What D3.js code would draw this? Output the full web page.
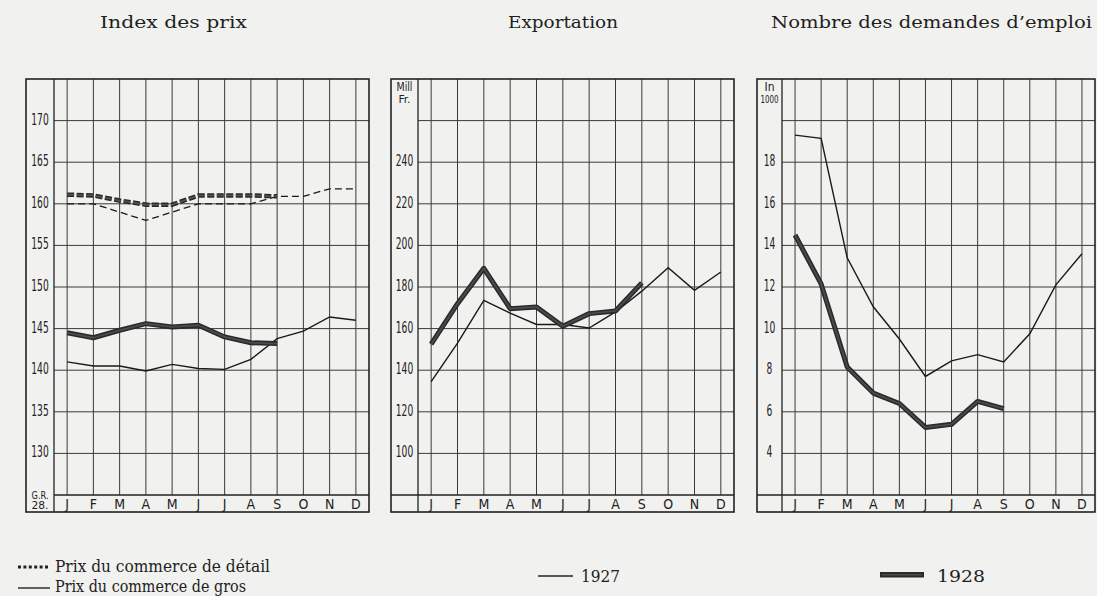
<!DOCTYPE html>
<html>
<head>
<meta charset="utf-8">
<script src="https://cdn.jsdelivr.net/npm/d3@7"></script>
<style>
  body { margin: 0; background: #f1f1ef; }
  svg { display: block; }
  .title, .legend { font-family: "DejaVu Serif Condensed", "DejaVu Serif", serif; fill: #1e1e1e; }
  .tick-label { font-family: "DejaVu Sans Condensed", "DejaVu Sans", sans-serif; fill: #222; }
</style>
</head>
<body>
<div id="chart"></div>
<script>
// months (J F M A M J J A S O N D)
const monthLabels = ["J", "F", "M", "A", "M", "J", "J", "A", "S", "O", "N", "D"];

// Index des prix
const retail1927 = [160, 160, 159, 158, 159, 160, 160, 160, 160.9, 160.9, 161.8, 161.8];
const retail1928 = [161.1, 161, 160.4, 159.9, 159.9, 161, 161, 161, 160.9];
const wholesale1927 = [141, 140.5, 140.5, 139.9, 140.7, 140.2, 140.1, 141.3, 143.8, 144.7, 146.4, 146];
const wholesale1928 = [144.5, 143.9, 144.8, 145.6, 145.2, 145.4, 144, 143.3, 143.2];
const priceTicks = [130, 135, 140, 145, 150, 155, 160, 165, 170];

// Exportation (Mill. Fr.)
const export1927 = [134.5, 153, 173.6, 167.4, 162, 162, 160.3, 168, 178, 189.3, 178.4, 187.2];
const export1928 = [152.5, 172, 189, 169.6, 170.4, 161.1, 167.2, 168.5, 182];
const exportTicks = [100, 120, 140, 160, 180, 200, 220, 240];

// Nombre des demandes d'emploi (en 1000)
const jobs1927 = [19.3, 19.15, 13.4, 11.05, 9.5, 7.7, 8.45, 8.75, 8.4, 9.75, 12.1, 13.6];
const jobs1928 = [14.5, 12.15, 8.15, 6.9, 6.4, 5.25, 5.4, 6.5, 6.15];
const jobsTicks = [4, 6, 8, 10, 12, 14, 16, 18];

const width = 1097, height = 596;
const plotTop = 79, bandTop = 495, plotBottom = 512;

const svg = d3.select("#chart").append("svg")
  .attr("width", width)
  .attr("height", height);

const panels = [
  { title: "Index des prix", titleX: 100, titleW: 147, left: 26, inner: 54, right: 369,
    domain: [125, 175], ticks: priceTicks, unit: null, corner: ["G.R.", "28."],
    series: [
      { values: retail1927, kind: "thinDash" },
      { values: wholesale1927, kind: "thin" },
      { values: retail1928, kind: "thickDash" },
      { values: wholesale1928, kind: "thick" }
    ] },
  { title: "Exportation", titleX: 508, titleW: 110, left: 391, inner: 418, right: 734,
    domain: [80, 280], ticks: exportTicks, unit: ["Mill", "Fr."], corner: null,
    series: [
      { values: export1927, kind: "thin" },
      { values: export1928, kind: "thick" }
    ] },
  { title: "Nombre des demandes d\u2019emploi", titleX: 771, titleW: 321, left: 757, inner: 782, right: 1095,
    domain: [2, 22], ticks: jobsTicks, unit: ["In", "1000"], corner: null,
    series: [
      { values: jobs1927, kind: "thin" },
      { values: jobs1928, kind: "thick" }
    ] }
];

panels.forEach(p => {
  const g = svg.append("g");
  const x = d3.scalePoint().domain(d3.range(12)).range([p.inner, p.right]).padding(0.5);
  const y = d3.scaleLinear().domain(p.domain).range([bandTop, plotTop]);

  // title
  svg.append("text")
    .attr("class", "title")
    .attr("x", p.titleX)
    .attr("y", 28)
    .attr("font-size", 17)
    .attr("textLength", p.titleW)
    .attr("lengthAdjust", "spacingAndGlyphs")
    .text(p.title);

  // horizontal grid
  const gridVals = d3.range(p.domain[0], p.domain[1] + 0.001, (p.domain[1] - p.domain[0]) / 10);
  g.selectAll(".hgrid")
    .data(gridVals.filter(v => v > p.domain[0] && v < p.domain[1]))
    .enter().append("line")
    .attr("x1", p.inner).attr("x2", p.right)
    .attr("y1", d => y(d)).attr("y2", d => y(d))
    .attr("stroke", "#3a3a3a").attr("stroke-width", 1);

  // vertical grid
  g.selectAll(".vgrid")
    .data(d3.range(12))
    .enter().append("line")
    .attr("x1", d => x(d)).attr("x2", d => x(d))
    .attr("y1", plotTop).attr("y2", bandTop)
    .attr("stroke", "#3a3a3a").attr("stroke-width", 1);

  // band line, inner axis, border
  g.append("line").attr("x1", p.corner ? p.inner : p.left).attr("x2", p.right)
    .attr("y1", bandTop).attr("y2", bandTop)
    .attr("stroke", "#222").attr("stroke-width", 1.3);
  g.append("line").attr("x1", p.inner).attr("x2", p.inner)
    .attr("y1", plotTop).attr("y2", plotBottom)
    .attr("stroke", "#222").attr("stroke-width", 1.3);
  g.append("rect")
    .attr("x", p.left).attr("y", plotTop)
    .attr("width", p.right - p.left).attr("height", plotBottom - plotTop)
    .attr("fill", "none").attr("stroke", "#222").attr("stroke-width", 1.6);

  // y tick labels (narrow, hand-lettered look)
  g.selectAll(".ylab")
    .data(p.ticks)
    .enter().append("text")
    .attr("class", "tick-label")
    .attr("x", (p.left + p.inner) / 2)
    .attr("y", d => y(d) + 4)
    .attr("text-anchor", "middle")
    .attr("font-size", 15)
    .attr("textLength", d => String(d).length * 5.8)
    .attr("lengthAdjust", "spacingAndGlyphs")
    .text(d => d);

  // month labels
  g.selectAll(".mlab")
    .data(monthLabels)
    .enter().append("text")
    .attr("class", "tick-label")
    .attr("x", (d, i) => x(i))
    .attr("y", bandTop + 14)
    .attr("text-anchor", "middle")
    .attr("font-size", 14)
    .text(d => d);

  if (p.unit) {
    p.unit.forEach((t, i) => {
      g.append("text").attr("class", "tick-label")
        .attr("x", (p.left + p.inner) / 2).attr("y", plotTop + 12 + i * 12)
        .attr("text-anchor", "middle").attr("font-size", i === 0 ? 12 : 10)
        .attr("textLength", i === 0 ? (t.length > 2 ? 16 : 10) : (t.length > 3 ? 18 : 12))
        .attr("lengthAdjust", "spacingAndGlyphs")
        .text(t);
    });
  }
  if (p.corner) {
    p.corner.forEach((t, i) => {
      g.append("text").attr("class", "tick-label")
        .attr("x", (p.left + p.inner) / 2).attr("y", bandTop + 4 + i * 10)
        .attr("text-anchor", "middle").attr("font-size", 10)
        .attr("textLength", 17).attr("lengthAdjust", "spacingAndGlyphs")
        .text(t);
    });
  }

  const line = d3.line().x((d, i) => x(i)).y(d => y(d));

  p.series.forEach(s => {
    if (s.kind === "thin") {
      g.append("path").attr("d", line(s.values))
        .attr("fill", "none").attr("stroke", "#1a1a1a").attr("stroke-width", 1.4);
    } else if (s.kind === "thinDash") {
      g.append("path").attr("d", line(s.values))
        .attr("fill", "none").attr("stroke", "#1a1a1a").attr("stroke-width", 1.3)
        .attr("stroke-dasharray", "7,4");
    } else if (s.kind === "thick") {
      g.append("path").attr("d", line(s.values))
        .attr("fill", "none").attr("stroke", "#2a2a2a").attr("stroke-width", 5)
        .attr("stroke-linejoin", "round");
      g.append("path").attr("d", line(s.values))
        .attr("fill", "none").attr("stroke", "#4c4c4c").attr("stroke-width", 1.8)
        .attr("stroke-linejoin", "round");
    } else if (s.kind === "thickDash") {
      g.append("path").attr("d", line(s.values))
        .attr("fill", "none").attr("stroke", "#2a2a2a").attr("stroke-width", 4.5)
        .attr("stroke-dasharray", "7,2.5");
      g.append("path").attr("d", line(s.values))
        .attr("fill", "none").attr("stroke", "#555").attr("stroke-width", 1.5)
        .attr("stroke-dasharray", "7,2.5");
    }
  });
});

// legend
const leg = svg.append("g");
leg.append("line").attr("x1", 18).attr("x2", 50).attr("y1", 567).attr("y2", 567)
  .attr("stroke", "#222").attr("stroke-width", 3).attr("stroke-dasharray", "3,2.4");
leg.append("text").attr("class", "legend").attr("x", 55).attr("y", 572)
  .attr("font-size", 16).attr("textLength", 215).attr("lengthAdjust", "spacingAndGlyphs")
  .text("Prix du commerce de détail");
leg.append("line").attr("x1", 18).attr("x2", 50).attr("y1", 588).attr("y2", 588)
  .attr("stroke", "#222").attr("stroke-width", 1.4);
leg.append("text").attr("class", "legend").attr("x", 55).attr("y", 592)
  .attr("font-size", 16).attr("textLength", 191).attr("lengthAdjust", "spacingAndGlyphs")
  .text("Prix du commerce de gros");

leg.append("line").attr("x1", 538).attr("x2", 573).attr("y1", 576).attr("y2", 576)
  .attr("stroke", "#222").attr("stroke-width", 1.4);
leg.append("text").attr("class", "legend").attr("x", 581).attr("y", 582)
  .attr("font-size", 16).attr("textLength", 39).attr("lengthAdjust", "spacingAndGlyphs")
  .text("1927");

leg.append("rect").attr("x", 880).attr("y", 572).attr("width", 44).attr("height", 5.5)
  .attr("fill", "#2a2a2a");
leg.append("line").attr("x1", 882).attr("x2", 922).attr("y1", 574.75).attr("y2", 574.75)
  .attr("stroke", "#4c4c4c").attr("stroke-width", 1.5);
leg.append("text").attr("class", "legend").attr("x", 937).attr("y", 582)
  .attr("font-size", 16).attr("textLength", 48).attr("lengthAdjust", "spacingAndGlyphs")
  .text("1928");
</script>
</body>
</html>
